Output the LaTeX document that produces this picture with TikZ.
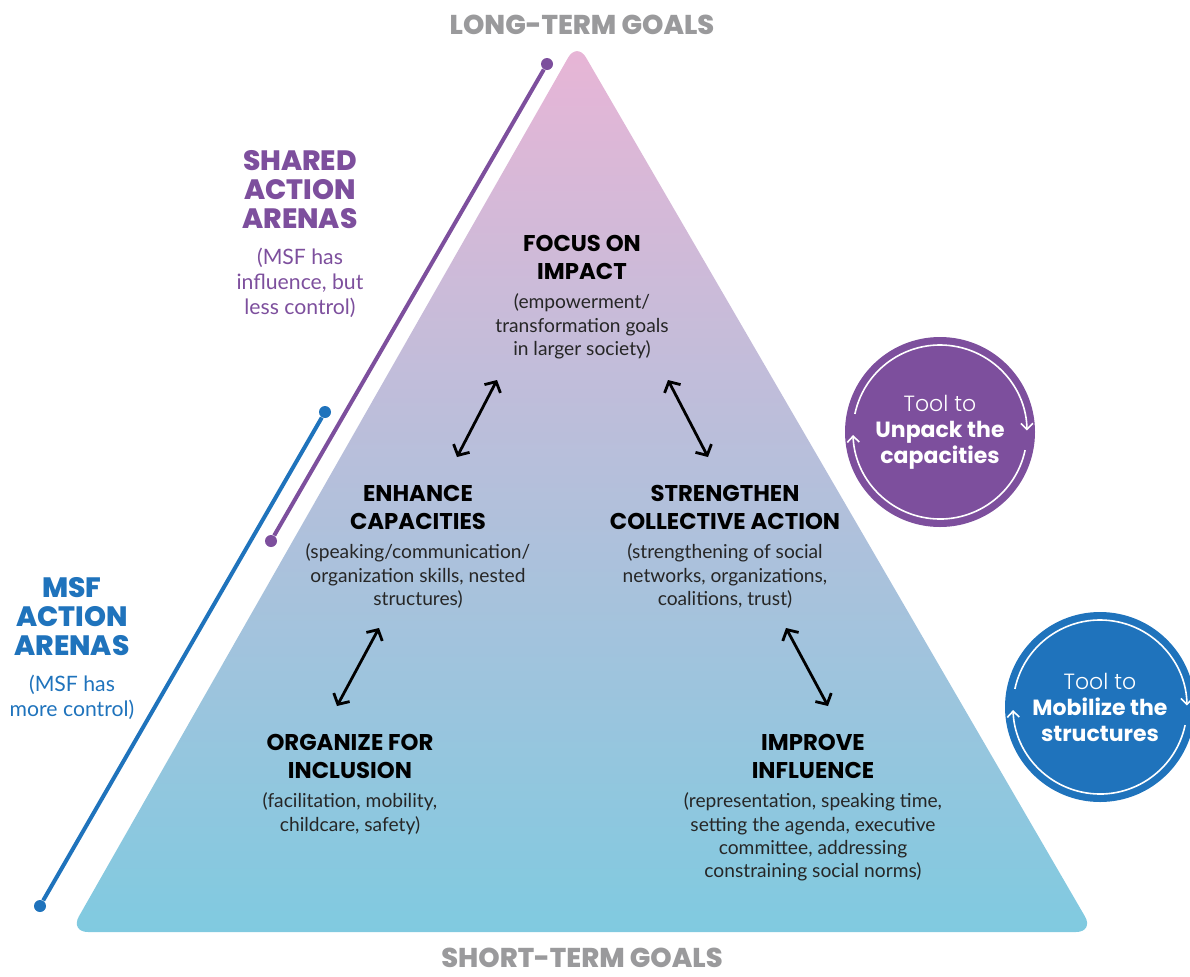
\documentclass[tikz,border=0pt]{standalone}
\usepackage{fontspec}
\setmainfont{Poppins}
\newfontfamily\lightfont{Poppins Light}
\newfontfamily\heavyfont{Poppins ExtraBold}
\newfontfamily\subfont{Lato}
\usepackage{tikz}
\usetikzlibrary{positioning, calc, arrows.meta}
\definecolor{msfpurple}{HTML}{7D4F9D}
\definecolor{msfblue}{HTML}{1F73BC}
\definecolor{msfgray}{HTML}{9A9A9C}
\definecolor{pyrtop}{HTML}{E8B5D6}
\definecolor{pyrmid}{HTML}{BCC0DA}
\definecolor{pyrbot}{HTML}{80CAE0}
\tikzstyle{head}=[align=center, inner sep=0pt, font=\bfseries\fontsize{11.4}{14}\selectfont]
\tikzstyle{sub}=[align=center, inner sep=0pt, font=\subfont\fontsize{9.6}{11.6}\selectfont, text=black!85]
\tikzstyle{goal}=[inner sep=0pt, text=msfgray, font=\heavyfont\fontsize{13.6}{13.6}\selectfont]
\tikzstyle{arena}=[align=center, inner sep=0pt, font=\heavyfont\fontsize{14}{14.5}\selectfont]
\tikzstyle{arenasub}=[align=center, inner sep=0pt, font=\subfont\fontsize{10.6}{12.5}\selectfont]
\tikzstyle{branch}=[fill, shape=circle, minimum size=6pt, inner sep=0pt]
\tikzstyle{tool}=[shape=circle, minimum size=95pt, inner sep=0pt, align=center, text=white, font=\fontsize{11}{13}\selectfont]
\tikzstyle{both}=[{Straight Barb[length=4pt,width=9pt]}-{Straight Barb[length=4pt,width=9pt]}, line width=1.4pt, line cap=round]
\tikzstyle{ring}=[white, line width=0.8pt, -{Straight Barb[length=3pt,width=6pt]}]

\begin{document}
\begin{tikzpicture}[x=0.5pt, y=-0.5pt]
	\useasboundingbox (0,0) rectangle (1190,976);
	\clip (0,0) rectangle (1190,976);

	\shade[top color=pyrtop, middle color=pyrmid, bottom color=pyrbot, rounded corners=9pt]
		(577,42) -- (1094,932) -- (70,932) -- cycle;

	\node[goal] (long) at (582,25) {LONG-TERM GOALS};
	\node[goal] (short) at (582,958) {SHORT-TERM GOALS};

	\node[arena, text=msfpurple] (shared) at (300,190) {SHARED\\ACTION\\ARENAS};
	\node[arenasub, text=msfpurple, below=9pt of shared] (sharedsub) {(MSF has\\influence, but\\less control)};
	\node[arena, text=msfblue] (msf) at (72,617) {MSF\\ACTION\\ARENAS};
	\node[arenasub, text=msfblue, below=9pt of msf] (msfsub) {(MSF has\\more control)};

	\node[branch, msfpurple] (p1) at (547,64) {};
	\node[branch, msfpurple] (p2) at (271,541) {};
	\node[branch, msfblue] (b1) at (325,412) {};
	\node[branch, msfblue] (b2) at (40,906) {};
	\draw[msfpurple, line width=2pt] (p1) -- (p2);
	\draw[msfblue, line width=2pt] (b1) -- (b2);

	\node[head] (focus) at (582,257) {FOCUS ON\\IMPACT};
	\node[sub, below=7pt of focus] (focussub) {(empowerment/\\transformation goals\\in larger society)};
	\node[head] (enhance) at (418,507) {ENHANCE\\CAPACITIES};
	\node[sub, below=7pt of enhance] (enhancesub) {(speaking/communication/\\organization skills, nested\\structures)};
	\node[head] (strength) at (725,507) {STRENGTHEN\\COLLECTIVE ACTION};
	\node[sub, below=7pt of strength] (strengthsub) {(strengthening of social\\networks, organizations,\\coalitions, trust)};
	\node[head] (organize) at (350,756) {ORGANIZE FOR\\INCLUSION};
	\node[sub, below=7pt of organize] (organizesub) {(facilitation, mobility,\\childcare, safety)};
	\node[head] (improve) at (813,756) {IMPROVE\\INFLUENCE};
	\node[sub, below=7pt of improve] (improvesub) {(representation, speaking time,\\setting the agenda, executive\\committee, addressing\\constraining social norms)};

	\coordinate (f1) at (497,380);
	\coordinate (e1) at (457,457);
	\coordinate (f2) at (668,380);
	\coordinate (s1) at (708,457);
	\coordinate (e2) at (379,628);
	\coordinate (o1) at (337,706);
	\coordinate (s2) at (786,628);
	\coordinate (i1) at (828,706);
	\foreach \a/\b in {e1/f1, s1/f2, o1/e2, i1/s2}
		\draw[both] (\a) -- (\b);

	\node[tool, fill=msfpurple] (unpack) at (940,432) {{\lightfont Tool to}\\\textbf{Unpack the}\\\textbf{capacities}};
	\node[tool, fill=msfblue] (mobilize) at (1100,707) {{\lightfont Tool to}\\\textbf{Mobilize the}\\\textbf{structures}};

	\foreach \c in {unpack, mobilize}
		{
			\draw[ring] ($(\c.center)+(-168:87)$) arc[start angle=-168, end angle=-1, radius=87];
			\draw[ring] ($(\c.center)+(12:87)$) arc[start angle=12, end angle=178, radius=87];
		}

\end{tikzpicture}
\end{document}
